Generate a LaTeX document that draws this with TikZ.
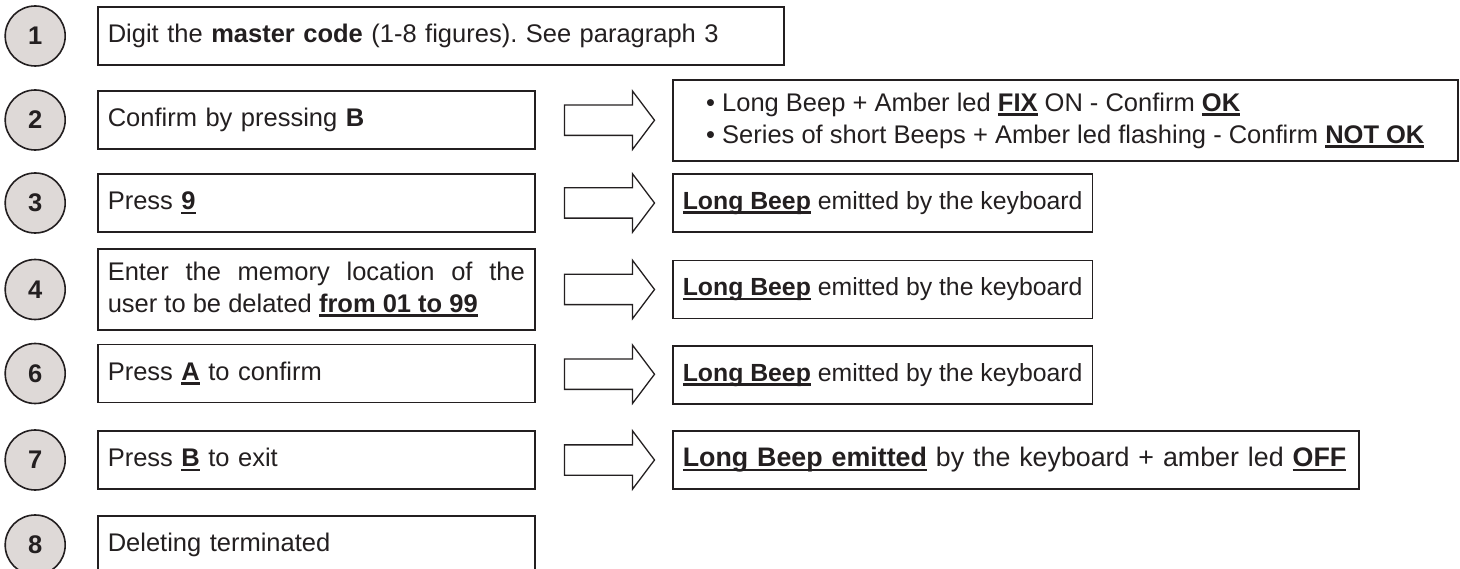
\documentclass[tikz,border=0pt]{standalone}
\usepackage{fontspec}
\setmainfont{Liberation Sans}
\usetikzlibrary{calc, positioning, shapes.arrows}
\frenchspacing

\definecolor{ink}{RGB}{35,31,32}
\definecolor{disc}{RGB}{222,217,215}
\newcommand{\ulbf}[1]{\textbf{\setbox0\hbox{#1}\rlap{\rule[-4.5pt]{\wd0}{2.6pt}}\box0}}

\begin{document}
\begin{tikzpicture}[x=1pt, y=-1pt, line width=1.6pt, draw=ink, text=ink,
    font=\fontsize{25.5}{32}\selectfont]
    \tikzstyle{stepnum}=[draw, circle, fill=disc, minimum size=60pt, inner sep=0pt, font=\fontsize{25.5}{32}\selectfont\bfseries]
    \tikzstyle{action}=[draw, anchor=west, minimum height=58pt, text width=417pt, inner xsep=10pt, align=left]
    \tikzstyle{result}=[draw, anchor=west, minimum height=58pt, inner xsep=10pt, align=left, font=\fontsize{24.8}{31}\selectfont]
    \tikzstyle{bigarrow}=[draw, single arrow, single arrow head extend=14pt, single arrow tip angle=106, single arrow head indent=0pt, minimum height=90pt, inner sep=14.5pt, line width=1.3pt]

    \useasboundingbox (0,0) rectangle (1460,569);

    % Draw the action boxes
    \node[action, text width=666pt] (L1) at (97,36) {Digit the \textbf{master code} (1-8 figures). See paragraph 3};
    \node[action] (L2) at (97,120) {Confirm by pressing \textbf{B}};
    \node[action] (L3) at (97,203) {Press \ulbf{9}};
    \node[action, minimum height=81pt, align=justify] (L4) at (97,289.5) {Enter the memory location of the\linebreak user to be delated \ulbf{from 01 to 99}};
    \node[action] (L6) at (97,373.5) {Press \ulbf{A} to confirm};
    \node[action] (L7) at (97,460) {Press \ulbf{B} to exit};
    \node[action] (L8) at (97,545) {Deleting terminated};

    % Draw the step numbers
    \foreach \n in {1,2,3,4,6,7,8}
    \node[stepnum, left=31pt of L\n] (N\n) {\n};

    % Draw the result boxes
    \node[result, minimum height=81pt, minimum width=785pt, font=\fontsize{25.5}{32}\selectfont] (R2) at (672,120.5) {\textbullet\ Long Beep + Amber led \ulbf{FIX} ON - Confirm \ulbf{OK}\\
        \textbullet\ Series of short Beeps + Amber led flashing - Confirm \ulbf{NOT OK}};
    \node[result] (R3) at (672,203) {\ulbf{Long Beep} emitted by the keyboard};
    \node[result] (R4) at (672,289.5) {\ulbf{Long Beep} emitted by the keyboard};
    \node[result] (R6) at (672,375) {\ulbf{Long Beep} emitted by the keyboard};
    \node[result, text width=666pt, font=\fontsize{26.8}{33}\selectfont] (R7) at (672,460) {\ulbf{Long Beep emitted} by the keyboard + amber led \ulbf{OFF}};

    % Draw the arrows between action and result
    \foreach \n in {2,3,4,6,7}
    \node[bigarrow] (A\n) at ($(L\n.east)!0.5!(R\n.west)$) {};
\end{tikzpicture}
\end{document}
